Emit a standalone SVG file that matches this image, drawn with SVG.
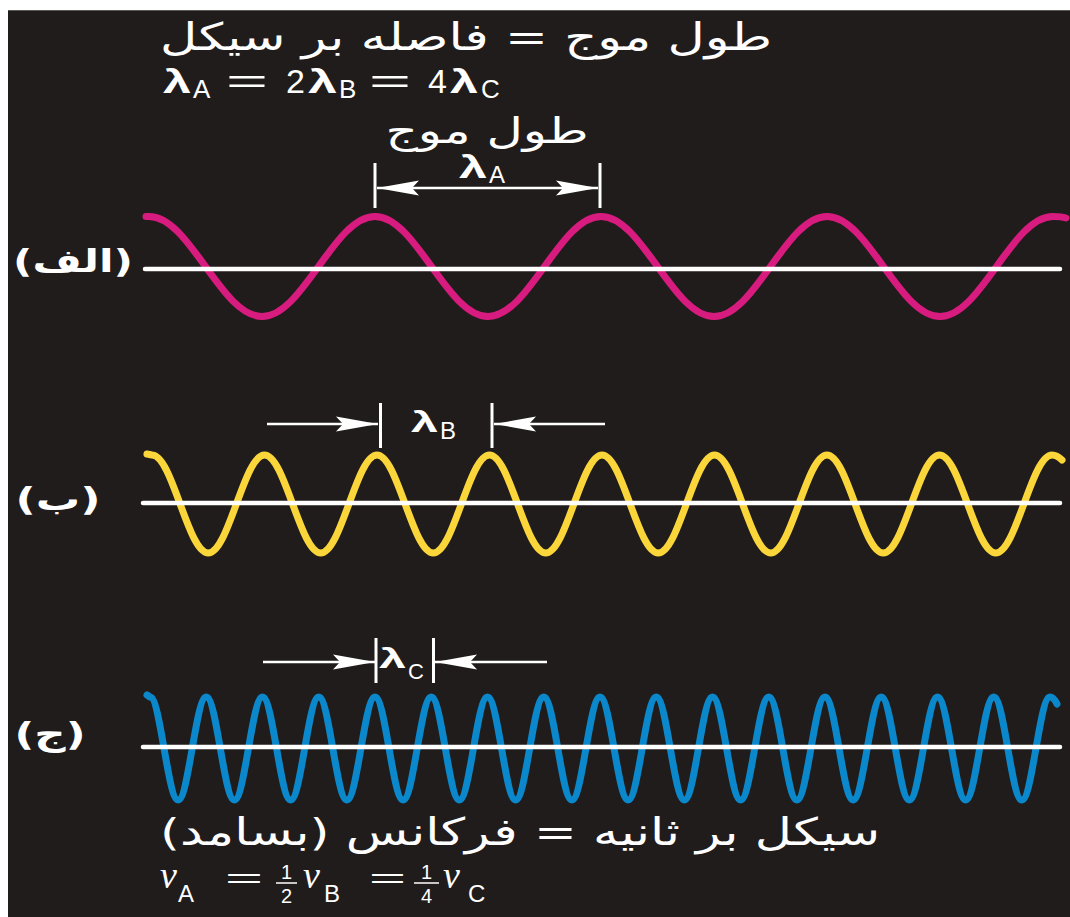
<svg xmlns="http://www.w3.org/2000/svg" width="1070" height="917" viewBox="0 0 1070 917">
<style>
.fa{font-family:"DejaVu Sans","Noto Sans",sans-serif;fill:#fff;direction:rtl;text-anchor:middle}
.sym{font-family:"Liberation Sans",Arial,sans-serif;fill:#fff}
.lam{font-family:"Liberation Sans",Arial,sans-serif;font-weight:bold;fill:#fff}
.nu{font-family:"Liberation Serif","Times New Roman",serif;font-style:italic;fill:#fff}
.sub{font-family:"Liberation Sans Narrow","Liberation Sans",Arial,sans-serif;fill:#fff}
.wave{fill:none;stroke-width:7;stroke-linecap:round;stroke-linejoin:round}
.axis{stroke:#fff;stroke-width:4.5;stroke-linecap:round}
.tick{stroke:#fff;stroke-width:3}
.arr{stroke:#fff;stroke-width:2.5;fill:none}
</style>
<defs>
<marker id="ah" markerUnits="userSpaceOnUse" viewBox="0 -8 42 16" refX="42" refY="0" markerWidth="42" markerHeight="16" orient="auto-start-reverse">
<path d="M42,0 L0,-7.5 L7,0 L0,7.5 Z" fill="#fff"/>
</marker>
</defs>
<rect x="0" y="0" width="1070" height="917" fill="#fff"/>
<rect x="8" y="10" width="1062" height="907" fill="#201c1b"/>
<line x1="8" y1="10.5" x2="1070" y2="10.5" stroke="#5a5654" stroke-width="1"/>

<g id="header">
<text class="fa" x="466" y="50" font-size="38" textLength="612" lengthAdjust="spacingAndGlyphs">طول موج = فاصله بر سیکل</text>
<g id="eq-lambda">
<text class="lam" x="163" y="93" font-size="34" textLength="28" lengthAdjust="spacingAndGlyphs">λ</text>
<text class="sym" x="193" y="98" font-size="26">A</text>
<text class="sym" x="226" y="93" font-size="34" textLength="42" lengthAdjust="spacingAndGlyphs">=</text>
<text class="sym" x="286" y="93" font-size="34">2</text>
<text class="lam" x="308" y="93" font-size="34" textLength="29" lengthAdjust="spacingAndGlyphs">λ</text>
<text class="sym" x="339" y="98" font-size="26">B</text>
<text class="sym" x="369" y="93" font-size="34" textLength="42" lengthAdjust="spacingAndGlyphs">=</text>
<text class="sym" x="428" y="93" font-size="34">4</text>
<text class="lam" x="450" y="93" font-size="34" textLength="28" lengthAdjust="spacingAndGlyphs">λ</text>
<text class="sym" x="481" y="98" font-size="26">C</text>
</g>
</g>

<g id="wave-A">
<path class="wave" stroke="#d81b7e" d="M146,216.5 L149,216.5 c20.45,0 38.08,24.39 56.5,50 c18.42,25.62 36.05,50 56.5,50 c20.45,0 38.08,-24.39 56.5,-50 c18.42,-25.62 36.05,-50 56.5,-50 c20.45,0 38.08,24.39 56.5,50 c18.42,25.62 36.05,50 56.5,50 c20.45,0 38.08,-24.39 56.5,-50 c18.42,-25.62 36.05,-50 56.5,-50 c20.45,0 38.08,24.39 56.5,50 c18.42,25.62 36.05,50 56.5,50 c20.45,0 38.08,-24.39 56.5,-50 c18.42,-25.62 36.05,-50 56.5,-50 c20.45,0 38.08,24.39 56.5,50 c18.42,25.62 36.05,50 56.5,50 c20.45,0 38.08,-24.39 56.5,-50 c18.42,-25.62 36.05,-50 56.5,-50 c5,0 10,0.5 13,1.5"/>
<line class="axis" x1="145" y1="269" x2="1060" y2="269"/>
<text class="fa" x="73" y="272" font-size="32" font-weight="bold" textLength="120" lengthAdjust="spacingAndGlyphs">(الف)</text>
<text class="fa" x="487" y="143" font-size="36" textLength="203" lengthAdjust="spacingAndGlyphs">طول موج</text>
<line class="tick" x1="375" y1="163" x2="375" y2="208"/>
<line class="tick" x1="600" y1="163" x2="600" y2="208"/>
<line class="arr" x1="377" y1="188" x2="598" y2="188" marker-start="url(#ah)" marker-end="url(#ah)"/>
<text class="lam" x="459" y="178" font-size="32" textLength="28" lengthAdjust="spacingAndGlyphs">λ</text>
<text class="sym" x="489" y="183" font-size="24">A</text>
</g>

<g id="wave-B">
<path class="wave" stroke="#fbd63a" d="M147,454 L152,455 c10.18,0 18.95,23.9 28.125,49 c9.17,25.1 17.95,49 28.125,49 c10.18,0 18.95,-23.9 28.125,-49 c9.17,-25.1 17.95,-49 28.125,-49 c10.18,0 18.95,23.9 28.125,49 c9.17,25.1 17.95,49 28.125,49 c10.18,0 18.95,-23.9 28.125,-49 c9.17,-25.1 17.95,-49 28.125,-49 c10.18,0 18.95,23.9 28.125,49 c9.17,25.1 17.95,49 28.125,49 c10.18,0 18.95,-23.9 28.125,-49 c9.17,-25.1 17.95,-49 28.125,-49 c10.18,0 18.95,23.9 28.125,49 c9.17,25.1 17.95,49 28.125,49 c10.18,0 18.95,-23.9 28.125,-49 c9.17,-25.1 17.95,-49 28.125,-49 c10.18,0 18.95,23.9 28.125,49 c9.17,25.1 17.95,49 28.125,49 c10.18,0 18.95,-23.9 28.125,-49 c9.17,-25.1 17.95,-49 28.125,-49 c10.18,0 18.95,23.9 28.125,49 c9.17,25.1 17.95,49 28.125,49 c10.18,0 18.95,-23.9 28.125,-49 c9.17,-25.1 17.95,-49 28.125,-49 c10.18,0 18.95,23.9 28.125,49 c9.17,25.1 17.95,49 28.125,49 c10.18,0 18.95,-23.9 28.125,-49 c9.17,-25.1 17.95,-49 28.125,-49 c10.18,0 18.95,23.9 28.125,49 c9.17,25.1 17.95,49 28.125,49 c10.18,0 18.95,-23.9 28.125,-49 c9.17,-25.1 17.95,-49 28.125,-49 c3,0 7,2 10,5"/>
<line class="axis" x1="143" y1="503" x2="1060" y2="503"/>
<text class="fa" x="58" y="510" font-size="32" font-weight="bold" textLength="85" lengthAdjust="spacingAndGlyphs">(ب)</text>
<line class="tick" x1="380.5" y1="403" x2="380.5" y2="448"/>
<line class="tick" x1="492" y1="403" x2="492" y2="448"/>
<line class="arr" x1="267" y1="424" x2="378" y2="424" marker-end="url(#ah)"/>
<line class="arr" x1="605" y1="424" x2="494" y2="424" marker-end="url(#ah)"/>
<text class="lam" x="411" y="432" font-size="30" textLength="27" lengthAdjust="spacingAndGlyphs">λ</text>
<text class="sym" x="440" y="439" font-size="24">B</text>
</g>

<g id="wave-C">
<path class="wave" stroke="#0a88cb" d="M147,695 L150,697 c5.09,0 9.48,25.12 14.0625,51.5 c4.59,26.38 8.97,51.5 14.0625,51.5 c5.09,0 9.48,-25.12 14.0625,-51.5 c4.59,-26.38 8.97,-51.5 14.0625,-51.5 c5.09,0 9.48,25.12 14.0625,51.5 c4.59,26.38 8.97,51.5 14.0625,51.5 c5.09,0 9.48,-25.12 14.0625,-51.5 c4.59,-26.38 8.97,-51.5 14.0625,-51.5 c5.09,0 9.48,25.12 14.0625,51.5 c4.59,26.38 8.97,51.5 14.0625,51.5 c5.09,0 9.48,-25.12 14.0625,-51.5 c4.59,-26.38 8.97,-51.5 14.0625,-51.5 c5.09,0 9.48,25.12 14.0625,51.5 c4.59,26.38 8.97,51.5 14.0625,51.5 c5.09,0 9.48,-25.12 14.0625,-51.5 c4.59,-26.38 8.97,-51.5 14.0625,-51.5 c5.09,0 9.48,25.12 14.0625,51.5 c4.59,26.38 8.97,51.5 14.0625,51.5 c5.09,0 9.48,-25.12 14.0625,-51.5 c4.59,-26.38 8.97,-51.5 14.0625,-51.5 c5.09,0 9.48,25.12 14.0625,51.5 c4.59,26.38 8.97,51.5 14.0625,51.5 c5.09,0 9.48,-25.12 14.0625,-51.5 c4.59,-26.38 8.97,-51.5 14.0625,-51.5 c5.09,0 9.48,25.12 14.0625,51.5 c4.59,26.38 8.97,51.5 14.0625,51.5 c5.09,0 9.48,-25.12 14.0625,-51.5 c4.59,-26.38 8.97,-51.5 14.0625,-51.5 c5.09,0 9.48,25.12 14.0625,51.5 c4.59,26.38 8.97,51.5 14.0625,51.5 c5.09,0 9.48,-25.12 14.0625,-51.5 c4.59,-26.38 8.97,-51.5 14.0625,-51.5 c5.09,0 9.48,25.12 14.0625,51.5 c4.59,26.38 8.97,51.5 14.0625,51.5 c5.09,0 9.48,-25.12 14.0625,-51.5 c4.59,-26.38 8.97,-51.5 14.0625,-51.5 c5.09,0 9.48,25.12 14.0625,51.5 c4.59,26.38 8.97,51.5 14.0625,51.5 c5.09,0 9.48,-25.12 14.0625,-51.5 c4.59,-26.38 8.97,-51.5 14.0625,-51.5 c5.09,0 9.48,25.12 14.0625,51.5 c4.59,26.38 8.97,51.5 14.0625,51.5 c5.09,0 9.48,-25.12 14.0625,-51.5 c4.59,-26.38 8.97,-51.5 14.0625,-51.5 c5.09,0 9.48,25.12 14.0625,51.5 c4.59,26.38 8.97,51.5 14.0625,51.5 c5.09,0 9.48,-25.12 14.0625,-51.5 c4.59,-26.38 8.97,-51.5 14.0625,-51.5 c5.09,0 9.48,25.12 14.0625,51.5 c4.59,26.38 8.97,51.5 14.0625,51.5 c5.09,0 9.48,-25.12 14.0625,-51.5 c4.59,-26.38 8.97,-51.5 14.0625,-51.5 c5.09,0 9.48,25.12 14.0625,51.5 c4.59,26.38 8.97,51.5 14.0625,51.5 c5.09,0 9.48,-25.12 14.0625,-51.5 c4.59,-26.38 8.97,-51.5 14.0625,-51.5 c5.09,0 9.48,25.12 14.0625,51.5 c4.59,26.38 8.97,51.5 14.0625,51.5 c5.09,0 9.48,-25.12 14.0625,-51.5 c4.59,-26.38 8.97,-51.5 14.0625,-51.5 c5.09,0 9.48,25.12 14.0625,51.5 c4.59,26.38 8.97,51.5 14.0625,51.5 c5.09,0 9.48,-25.12 14.0625,-51.5 c4.59,-26.38 8.97,-51.5 14.0625,-51.5 c3,0 5,3 7,7"/>
<line class="axis" x1="143" y1="747" x2="1060" y2="747"/>
<text class="fa" x="50" y="745" font-size="32" font-weight="bold" textLength="71" lengthAdjust="spacingAndGlyphs">(ج)</text>
<line class="tick" x1="376" y1="638" x2="376" y2="683"/>
<line class="tick" x1="433.5" y1="638" x2="433.5" y2="683"/>
<line class="arr" x1="263" y1="662" x2="375" y2="662" marker-end="url(#ah)"/>
<line class="arr" x1="547" y1="662" x2="435" y2="662" marker-end="url(#ah)"/>
<text class="lam" x="379" y="668" font-size="28" textLength="27" lengthAdjust="spacingAndGlyphs">λ</text>
<text class="sym" x="408" y="679" font-size="22">C</text>
</g>

<g id="footer">
<text class="fa" x="520" y="845" font-size="38" textLength="720" lengthAdjust="spacingAndGlyphs">سیکل بر ثانیه = فرکانس (بسامد)</text>
<g id="eq-nu">
<text class="nu" x="160" y="888" font-size="38">ν</text>
<text class="sub" x="178" y="902" font-size="24">A</text>
<text class="sub" x="225" y="888" font-size="28" textLength="38" lengthAdjust="spacingAndGlyphs">=</text>
<text class="sub" x="286.5" y="879" font-size="20" text-anchor="middle">1</text>
<line x1="276" y1="883" x2="297" y2="883" stroke="#fff" stroke-width="1.5"/>
<text class="sub" x="286.5" y="903" font-size="20" text-anchor="middle">2</text>
<text class="nu" x="303" y="888" font-size="38">ν</text>
<text class="sub" x="324" y="902" font-size="24">B</text>
<text class="sub" x="369" y="888" font-size="28" textLength="37" lengthAdjust="spacingAndGlyphs">=</text>
<text class="sub" x="426.5" y="879" font-size="20" text-anchor="middle">1</text>
<line x1="414" y1="883" x2="439" y2="883" stroke="#fff" stroke-width="1.5"/>
<text class="sub" x="426.5" y="903" font-size="20" text-anchor="middle">4</text>
<text class="nu" x="443" y="888" font-size="38">ν</text>
<text class="sub" x="468" y="902" font-size="24">C</text>
</g>
</g>
</svg>
